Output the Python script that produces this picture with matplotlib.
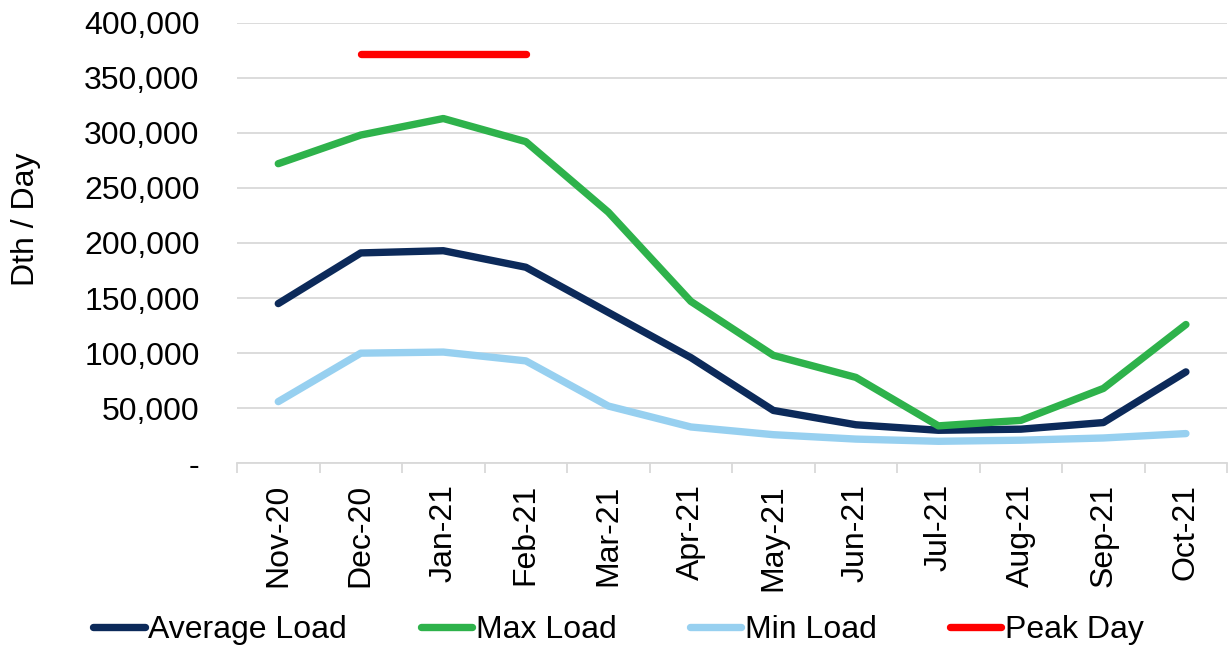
import matplotlib.pyplot as plt
import numpy as np
from matplotlib.ticker import FuncFormatter, FixedLocator

plt.rcParams["font.family"] = ["Liberation Sans", "DejaVu Sans"]

months = ["Nov-20", "Dec-20", "Jan-21", "Feb-21", "Mar-21", "Apr-21",
          "May-21", "Jun-21", "Jul-21", "Aug-21", "Sep-21", "Oct-21"]
average_load = [145000, 191000, 193000, 178000, 137000, 96000,
                48000, 35000, 30000, 31000, 37000, 83000]
max_load = [272000, 298000, 313000, 292000, 228000, 147000,
            98000, 78000, 34000, 39000, 68000, 126000]
min_load = [56000, 100000, 101000, 93000, 52000, 33000,
            26000, 22000, 20000, 21000, 23000, 27000]
peak_day = [np.nan, 372000, 372000, 372000, np.nan, np.nan,
            np.nan, np.nan, np.nan, np.nan, np.nan, np.nan]

fs = 23
fig = plt.figure(figsize=(12.3, 6.48), dpi=100)
ax = fig.add_axes([0.1927, 0.285, 0.805, 0.68])

x = np.arange(len(months))
lw = 5.3
ax.plot(x, average_load, color="#0c2a5a", lw=lw, solid_capstyle="round",
        solid_joinstyle="round", label="Average Load", zorder=3)
ax.plot(x, max_load, color="#2eb24b", lw=lw, solid_capstyle="round",
        solid_joinstyle="round", label="Max Load", zorder=3)
ax.plot(x, min_load, color="#97d0f0", lw=lw, solid_capstyle="round",
        solid_joinstyle="round", label="Min Load", zorder=2)
ax.plot(x, peak_day, color="#ff0000", lw=lw, solid_capstyle="round",
        label="Peak Day", zorder=3)

ax.set_xlim(-0.5, len(months) - 0.5)
ax.set_ylim(0, 400000)
ax.set_yticks(np.arange(0, 400001, 50000))
ax.yaxis.set_major_formatter(FuncFormatter(lambda v, p: "-" if v == 0 else f"{v:,.0f}"))
ax.grid(axis="y", color="#d9d9d9", lw=1.3)
ax.set_axisbelow(True)

# category boundary ticks + centered labels
ax.xaxis.set_major_locator(FixedLocator(np.arange(-0.5, len(months), 1.0)))
ax.xaxis.set_minor_locator(FixedLocator(x))
ax.set_xticklabels([], minor=False)
ax.set_xticklabels(months, minor=True, rotation=90, fontsize=fs)
ax.tick_params(axis="x", which="major", length=7, width=1.3, color="#d9d9d9")
ax.tick_params(axis="x", which="minor", length=0, pad=15)
ax.tick_params(axis="y", length=0, labelsize=fs, pad=27)

for s in ["top", "right", "left"]:
    ax.spines[s].set_visible(False)
ax.spines["bottom"].set_color("#d9d9d9")
ax.spines["bottom"].set_linewidth(1.3)

ax.set_ylabel("Dth / Day", fontsize=fs)
ax.yaxis.set_label_coords(-0.198, 0.554)

fig.legend(loc="center", bbox_to_anchor=(0.503, 0.028), ncol=4, frameon=False,
           fontsize=fs, handlelength=1.6, handletextpad=0.12, columnspacing=2.3)

fig.savefig("out.png", dpi=100)
